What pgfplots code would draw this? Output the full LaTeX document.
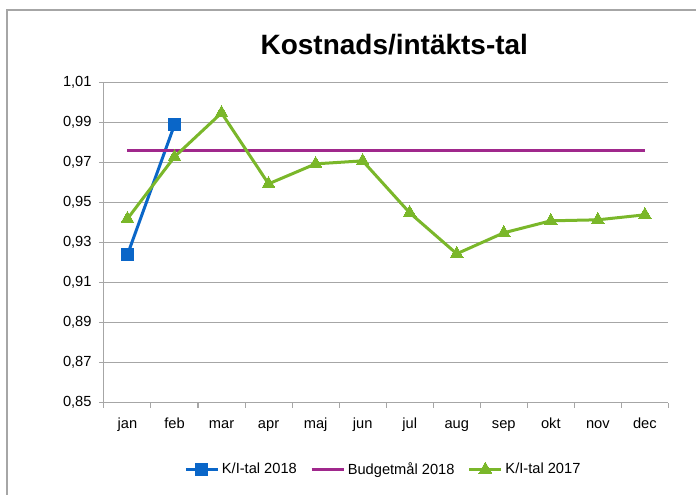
\documentclass[border=0pt]{standalone}
\usepackage{pgfplots}
\pgfplotsset{compat=1.18}
\usepackage{fontspec}
\setmainfont{Liberation Sans}

\definecolor{kiblue}{HTML}{0A66C8}
\definecolor{budget}{HTML}{A0288C}
\definecolor{kigreen}{HTML}{7AB72A}
\definecolor{gridgray}{HTML}{A6A6A6}

\begin{document}
\begin{tikzpicture}
  % page size 697x495 px at 0.75pt/px
  \path (0,0) rectangle (522.75pt,-371.25pt);
  \draw[gridgray, line width=0.9pt] (5.25pt,-371.25pt) -- (5.25pt,-7.5pt) -- (522.75pt,-7.5pt);
  \begin{axis}[
    at={(78pt,-302.25pt)}, anchor=south west,
    scale only axis,
    width=423.75pt, height=240pt,
    xmin=0.5, xmax=12.5,
    ymin=0.85, ymax=1.01,
    ytick={0.85,0.87,...,1.01},
    xtick={1,...,12},
    xticklabels={jan,feb,mar,apr,maj,jun,jul,aug,sep,okt,nov,dec},
    typeset ticklabels with strut,
    minor xtick={0.5,1.5,...,12.5},
    major x tick style={draw=none},
    minor tick length=3.75pt,
    major tick length=3.75pt,
    tick align=outside,
    tick style={gridgray, line width=0.8pt},
    axis x line*=bottom, axis y line*=left,
    axis line style={gridgray, line width=0.8pt, -},
    ymajorgrids, grid style={gridgray, line width=0.8pt},
    ticklabel style={font=\fontsize{11}{13}\selectfont, black},
    yticklabel style={xshift=-2pt},
    xticklabel style={yshift=-3pt},
    /pgf/number format/.cd, fixed, fixed zerofill, precision=2, use comma, assume math mode=true,
    /pgfplots/.cd,
    legend style={at={(0.4956,-0.209)}, anchor=center, draw=none, fill=none,
      font=\fontsize{11}{13}\selectfont, legend columns=3,
      /tikz/every even column/.append style={column sep=8pt}},
    legend image code/.code={\draw[mark repeat=2,mark phase=2,#1] plot coordinates {(0pt,0pt) (12pt,0pt) (24pt,0pt)};},
    clip=false,
  ]
    \addplot[kiblue, line width=2.25pt, mark=square*, mark size=4.5pt,
      mark options={solid, fill=kiblue, draw=kiblue, line width=0pt}]
      coordinates {(1,0.924) (2,0.989)};
    \addlegendentry{K/I-tal 2018}
    \addplot[budget, line width=2.25pt]
      coordinates {(1,0.976) (12,0.976)};
    \addlegendentry{Budgetmål 2018}
    \addplot[kigreen, line width=2.25pt, mark=triangle*, mark size=5.5pt,
      mark options={solid, fill=kigreen, draw=kigreen, line width=0pt}]
      coordinates {
        (1,0.942) (2,0.973) (3,0.995) (4,0.9595) (5,0.9695) (6,0.971)
        (7,0.945) (8,0.9245) (9,0.935) (10,0.941) (11,0.9415) (12,0.944)
      };
    \addlegendentry{K/I-tal 2017}
  \end{axis}
  \node[font=\bfseries\fontsize{21}{25}\selectfont] at (296pt,-33.75pt) {Kostnads/intäkts-tal};
\end{tikzpicture}
\end{document}
